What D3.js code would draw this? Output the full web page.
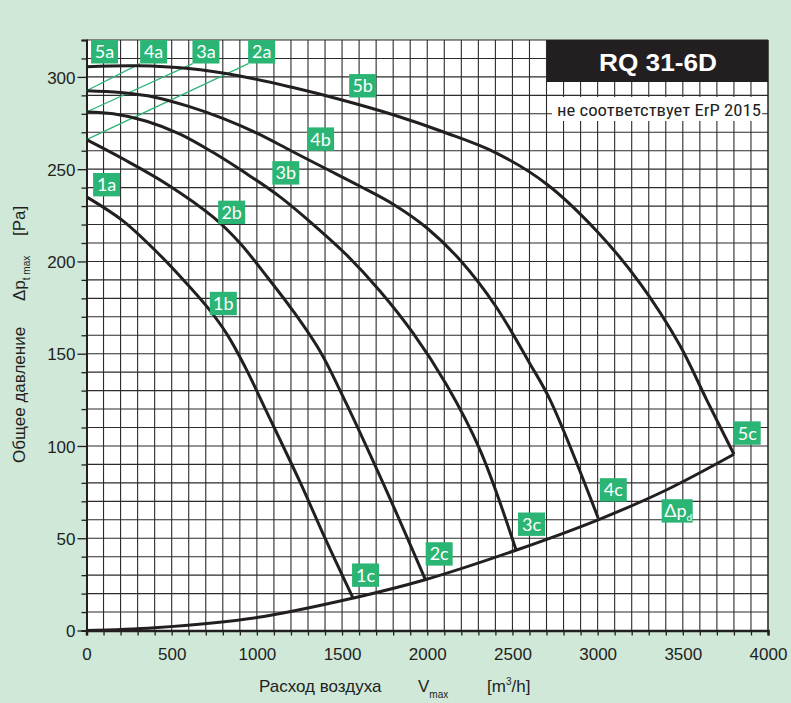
<!DOCTYPE html>
<html><head><meta charset="utf-8">
<script src="https://cdn.jsdelivr.net/npm/d3@7"></script>
<style>
html,body{margin:0;padding:0;background:#cfe8d8;}
svg{display:block;}
</style></head>
<body>
<svg id="c" width="791" height="703"></svg>
<script>
// ---- data (airflow m3/h, total pressure Pa) ----
const curve1 = [[0,235],[214,222],[414,205],[549,192],[707,175.5],[825,160.5],[930,143],[1047,120.5],[1253,80.5],[1400,50],[1562,18]];
const curve2 = [[0,266],[216,255.5],[470,242],[744,224],[900,210],[1057,192],[1214,173],[1370,151.5],[1507,126.5],[1750,78],[1987,28]];
const curve3 = [[0,281],[157,280],[353,276],[549,269],[744,259],[940,247.5],[1136,235],[1331,220],[1527,203.5],[1722,184],[1918,161],[2114,133],[2309,98],[2520,44]];
const curve4 = [[0,292.5],[200,291.5],[400,289],[600,284],[800,277.5],[1000,269.5],[1200,260],[1400,250.5],[1600,241],[1800,231],[2000,218],[2200,200],[2400,176],[2600,145],[2721,125],[3003,61]];
const curve5 = [[0,305.5],[300,306],[600,304.5],[900,300.5],[1200,294.5],[1500,287.5],[1800,279.5],[2100,270],[2400,259],[2700,242],[3000,216],[3250,188],[3480,155],[3640,125],[3800,95.5]];
const systemCurve = [[0,0],[400,1.5],[1000,7],[1562,17.5],[1987,27.5],[2520,43.5],[3003,60],[3400,76],[3800,95.5]];
const fanCurves = [curve1, curve2, curve3, curve4, curve5];
const xTicks = [0,500,1000,1500,2000,2500,3000,3500,4000];
const yTicks = [0,50,100,150,200,250,300];
const labels = [
  {t:"5a", v:106, p:313.6},{t:"4a", v:394, p:313.6},{t:"3a", v:701, p:313.6},{t:"2a", v:1028, p:313.6},
  {t:"5b", v:1621, p:295.2},{t:"4b", v:1374, p:266.3},{t:"3b", v:1170, p:248},{t:"2b", v:852, p:226.6},
  {t:"1a", v:118, p:241.6},{t:"1b", v:803, p:177.2},
  {t:"1c", v:1638, p:30},{t:"2c", v:2070, p:41.5},{t:"3c", v:2612, p:57.6},{t:"4c", v:3092, p:76.2},{t:"5c", v:3878, p:107}
];
const leaders = [ // from curve start to label corner
  {from:[0,292.5], to:[314,307.2]},
  {from:[0,281], to:[623,307.2]},
  {from:[0,266], to:[950,307.2]}
];
const title = "RQ 31-6D";
const note = "не соответствует ErP 2015";

// ---- drawing ----
const svg = d3.select("#c");
const L = 86.5, R = 768, T = 40, B = 630.5;
const x = d3.scaleLinear().domain([0,4000]).range([L,R]);
const y = d3.scaleLinear().domain([0,320]).range([B,T]);
const green = "#2bb574", ink = "#231f20";

svg.append("rect").attr("width",791).attr("height",703).attr("fill","#cfe8d8");
svg.append("rect").attr("x",L).attr("y",T).attr("width",R-L).attr("height",B-T).attr("fill","#fff");

// grid
const g = svg.append("g").attr("stroke","#2d2b2b").attr("stroke-width",1.1);
d3.range(100,4000,100).forEach(v=>g.append("line").attr("x1",x(v)).attr("x2",x(v)).attr("y1",T).attr("y2",B));
d3.range(10,330,10).forEach(p=>g.append("line").attr("x1",L).attr("x2",R).attr("y1",y(p)).attr("y2",y(p)));
svg.append("line").attr("x1",R).attr("x2",R).attr("y1",T).attr("y2",B).attr("stroke",ink).attr("stroke-width",1.5);

// axes
const xAxis = d3.axisBottom(x).tickValues(d3.range(0,4001,100)).tickSize(5).tickFormat(d=>xTicks.includes(d)?d:"");
const ax = svg.append("g").attr("transform",`translate(0,${B})`).call(xAxis);
ax.select(".domain").attr("stroke",ink).attr("stroke-width",2.5);
ax.selectAll(".tick line").attr("stroke",ink).attr("stroke-width",1.3);
ax.selectAll("text").attr("font-family","Liberation Sans, Arial, sans-serif").attr("font-size",17).attr("fill",ink).attr("dy","1.25em");
const yAxis = d3.axisLeft(y).tickValues(d3.range(0,321,10)).tickSize(5).tickFormat(d=>yTicks.includes(d)?d:"");
const ay = svg.append("g").attr("transform",`translate(${L},0)`).call(yAxis);
ay.select(".domain").attr("stroke",ink).attr("stroke-width",2);
ay.selectAll(".tick line").attr("stroke",ink).attr("stroke-width",1.3).attr("x2",d=>yTicks.includes(d)?-9:-5);
ay.selectAll("text").attr("font-family","Liberation Sans, Arial, sans-serif").attr("font-size",17).attr("fill",ink).attr("x",-11).attr("dy","0.36em");

// leader lines
leaders.forEach(d=>svg.append("line").attr("x1",x(d.from[0])).attr("y1",y(d.from[1])).attr("x2",x(d.to[0])).attr("y2",y(d.to[1])).attr("stroke",green).attr("stroke-width",1.3));

// curves
const line = d3.line().x(d=>x(d[0])).y(d=>y(d[1])).curve(d3.curveCatmullRom.alpha(0.5));
fanCurves.forEach(c=>svg.append("path").attr("d",line(c)).attr("fill","none").attr("stroke",ink).attr("stroke-width",3).attr("stroke-linejoin","round"));
svg.append("path").attr("d",line(systemCurve)).attr("fill","none").attr("stroke",ink).attr("stroke-width",3);

// labels
const lf = "Lato, 'Open Sans', sans-serif";
labels.forEach(d=>{
  const cx = x(d.v), cy = y(d.p);
  svg.append("rect").attr("x",cx-13.5).attr("y",cy-11.7).attr("width",27).attr("height",23.4).attr("fill",green);
  svg.append("text").attr("x",cx).attr("y",cy+6.5).attr("text-anchor","middle").attr("font-family",lf).attr("font-size",18).attr("fill","#fff").text(d.t);
});
{ // Δp_d label
  const cx = x(3467), cy = y(64.8);
  svg.append("rect").attr("x",cx-15.5).attr("y",cy-11.7).attr("width",31).attr("height",23.4).attr("fill",green);
  const t = svg.append("text").attr("x",cx-13).attr("y",cy+6.5).attr("font-family",lf).attr("font-size",18).attr("fill","#fff");
  t.append("tspan").text("Δp");
  t.append("tspan").attr("font-size",10).attr("dy",4).text("d");
}

// title block
svg.append("rect").attr("x",547).attr("y",T).attr("width",R-547).attr("height",42).attr("fill",ink);
svg.append("text").attr("x",658).attr("y",70.5).attr("text-anchor","middle").attr("font-family","Liberation Sans, Arial, sans-serif").attr("font-weight","bold").attr("font-size",24).attr("fill","#fff").attr("textLength",118).attr("lengthAdjust","spacingAndGlyphs").text(title);
svg.append("rect").attr("x",552).attr("y",97).attr("width",210).attr("height",24).attr("fill","#fff");
svg.append("text").attr("x",557).attr("y",116).attr("font-family","'Liberation Sans Narrow', 'Roboto Condensed', Roboto, sans-serif").attr("font-size",17).attr("fill",ink).attr("textLength",204).attr("lengthAdjust","spacingAndGlyphs").text(note);

// axis titles
const af = "Liberation Sans, Arial, sans-serif";
svg.append("text").attr("x",259).attr("y",692).attr("font-family",af).attr("font-size",17).attr("fill",ink).text("Расход воздуха");
const vt = svg.append("text").attr("x",418).attr("y",692).attr("font-family",af).attr("font-size",17).attr("fill",ink);
vt.append("tspan").text("V");
vt.append("tspan").attr("font-size",10).attr("dy",6).text("max");
const ut = svg.append("text").attr("x",487).attr("y",692).attr("font-family",af).attr("font-size",17).attr("fill",ink);
ut.append("tspan").text("[m");
ut.append("tspan").attr("font-size",10).attr("dy",-7).text("3");
ut.append("tspan").attr("dy",7).text("/h]");

const yg = svg.append("g").attr("transform","translate(25,0) rotate(-90)");
yg.append("text").attr("x",-463).attr("y",0).attr("font-family",af).attr("font-size",17).attr("fill",ink).text("Общее давление");
const dp = yg.append("text").attr("x",-301).attr("y",0).attr("font-family",af).attr("font-size",17).attr("fill",ink);
dp.append("tspan").text("Δp");
dp.append("tspan").attr("font-size",10).attr("dy",5).text("t max");
yg.append("text").attr("x",-236).attr("y",0).attr("font-family",af).attr("font-size",17).attr("fill",ink).text("[Pa]");
</script>
</body></html>
